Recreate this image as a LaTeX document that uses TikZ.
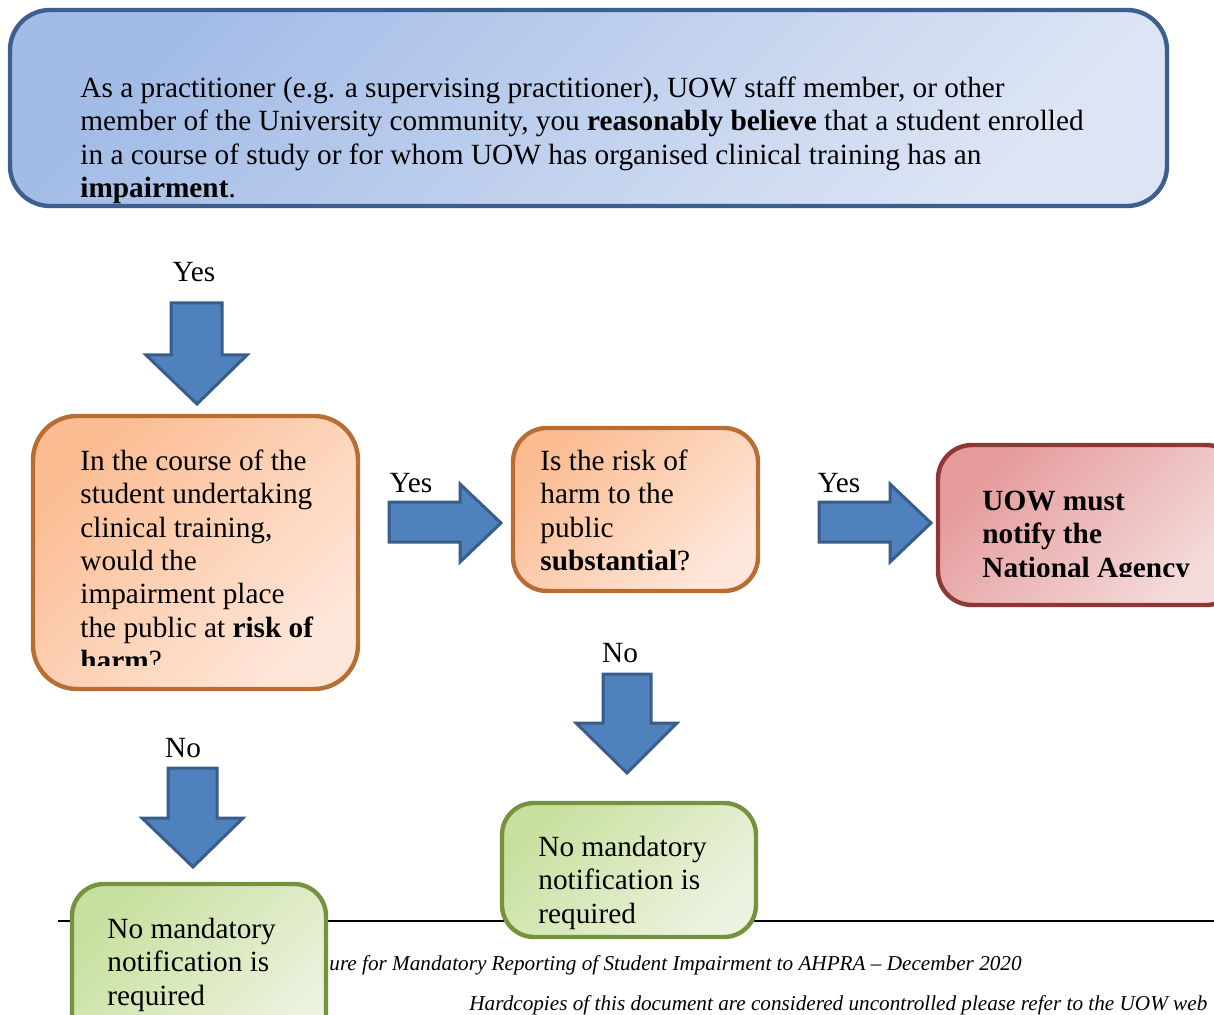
\documentclass[tikz,border=0pt]{standalone}
\usepackage{fontspec}
\setmainfont{Liberation Serif}

\definecolor{blueline}{HTML}{3D5F8F}
\definecolor{bluedark}{HTML}{A3BCE7}
\definecolor{bluelight}{HTML}{DDE5F4}
\definecolor{arrowfill}{HTML}{4F81BD}
\definecolor{arrowline}{HTML}{385D8A}
\definecolor{orangeline}{HTML}{B86D33}
\definecolor{orangedark}{HTML}{FBBC92}
\definecolor{orangelight}{HTML}{FEE7DA}
\definecolor{redline}{HTML}{8E3835}
\definecolor{reddark}{HTML}{E59A9B}
\definecolor{redlight}{HTML}{F5DCDC}
\definecolor{greenline}{HTML}{76923C}
\definecolor{greendark}{HTML}{C8E09F}
\definecolor{greenlight}{HTML}{ECF3E0}

\tikzset{
  blockarrow/.style={fill=arrowfill, draw=arrowline, line width=1.5pt, line join=miter},
  flowbox/.style={line width=2.2pt, shading angle=45},
  boxtext/.style={anchor=north west, inner sep=0pt, align=left, font=\fontsize{14.65}{16.7}\selectfont},
  answer/.style={anchor=base, inner sep=0pt, font=\fontsize{14.65}{16.7}\selectfont},
  footnote/.style={anchor=base west, inner sep=0pt, font=\fontsize{10.6}{12}\selectfont\itshape}
}

\begin{document}
\begin{tikzpicture}[x=0.5pt, y=-0.5pt]
        \useasboundingbox (0,0) rectangle (1214,1015);
        \clip (0,0) rectangle (1214,1015);

        % Caja superior
        \draw[flowbox, draw=blueline, top color=bluedark, bottom color=bluelight, shading angle=45, rounded corners=20pt] (10,10) rectangle (1167,206);
        \node[boxtext] (believe) at (80,73.6) {\strut As a practitioner (e.g. a supervising practitioner), UOW staff member, or other\\
          member of the University community, you \textbf{reasonably believe} that a student enrolled\\
          in a course of study or for whom UOW has organised clinical training has an\\
          \textbf{impairment}.};

        % Flechas
        \node[answer] (yesa) at (194,282) {Yes};
        \draw[blockarrow] (171,303) -- (222,303) -- (222,355) -- (247,355) -- (197,404) -- (146,355) -- (171,355) -- cycle;
        \node[answer] (yesb) at (411,493) {Yes};
        \draw[blockarrow] (389,502) -- (460,502) -- (460,484) -- (501,523) -- (460,562) -- (460,542) -- (389,542) -- cycle;
        \node[answer] (yesc) at (839,493) {Yes};
        \draw[blockarrow] (819,502) -- (890,502) -- (890,484) -- (931,523) -- (890,562) -- (890,542) -- (819,542) -- cycle;
        \node[answer] (noa) at (620,662) {No};
        \draw[blockarrow] (603,674) -- (651,674) -- (651,723) -- (677,723) -- (627,773) -- (576,723) -- (603,723) -- cycle;
        \node[answer] (nob) at (183,757) {No};
        \draw[blockarrow] (168,768) -- (217,768) -- (217,818) -- (243,818) -- (193,867) -- (142,818) -- (168,818) -- cycle;

        % Preguntas
        \draw[flowbox, draw=orangeline, top color=orangedark, bottom color=orangelight, shading angle=45, rounded corners=22pt] (33,416) rectangle (358,689);
        \begin{scope}
          \clip (36,419) rectangle (355,665);
          \node[boxtext] (harmq) at (80,446.6) {\strut In the course of the\\ student undertaking\\ clinical training,\\ would the\\ impairment place\\ the public at \textbf{risk of}\\ \textbf{harm}?};
        \end{scope}
        \draw[flowbox, draw=orangeline, top color=orangedark, bottom color=orangelight, shading angle=45, rounded corners=17pt] (513,428) rectangle (758,591);
        \node[boxtext] (substq) at (540,446.6) {\strut Is the risk of\\ harm to the\\ public\\ \textbf{substantial}?};

        % Notificar
        \draw[flowbox, draw=redline, top color=reddark, bottom color=redlight, shading angle=45, rounded corners=17pt] (938,445) rectangle (1240,605);
        \begin{scope}
          \clip (941,448) rectangle (1214,576);
          \node[boxtext, font=\fontsize{14.65}{16.7}\selectfont\bfseries] (notify) at (982,486.6) {\strut UOW must\\ notify the\\ National Agency};
        \end{scope}

        % Pie de pagina
        \draw[line width=1pt] (58,921) -- (1214,921);
        \node[footnote] (title) at (329,970) {ure for Mandatory Reporting of Student Impairment to AHPRA – December 2020};
        \node[footnote] (hardcopy) at (469,1010) {Hardcopies of this document are considered uncontrolled please refer to the UOW web};

        % Sin notificacion
        \draw[flowbox, draw=greenline, top color=greendark, bottom color=greenlight, shading angle=45, rounded corners=16pt] (502,803) rectangle (756,937);
        \node[boxtext] (nonotea) at (538,832.6) {\strut No mandatory\\ notification is\\ required};
        \draw[flowbox, draw=greenline, top color=greendark, bottom color=greenlight, shading angle=45, rounded corners=16pt] (72,884) rectangle (326,1060);
        \node[boxtext] (nonoteb) at (107,914.6) {\strut No mandatory\\ notification is\\ required};
    \end{tikzpicture}
\end{document}
